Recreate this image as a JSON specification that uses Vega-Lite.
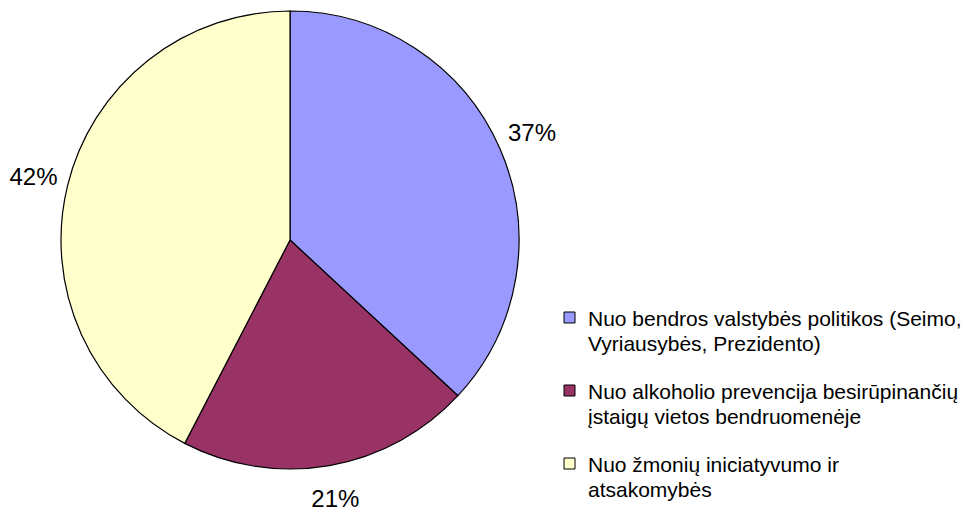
{
  "$schema": "https://vega.github.io/schema/vega-lite/v6.json",
  "width": 580,
  "height": 480,
  "padding": 0,
  "background": "white",
  "data": {
    "values": [
      {"n": 1, "category": "Nuo bendros valstybės politikos (Seimo,|Vyriausybės, Prezidento)", "value": 36.9, "label": "37%"},
      {"n": 2, "category": "Nuo alkoholio prevencija besirūpinančių|įstaigų vietos bendruomenėje", "value": 20.7, "label": "21%"},
      {"n": 3, "category": "Nuo žmonių iniciatyvumo ir|atsakomybės", "value": 42.4, "label": "42%"}
    ]
  },
  "encoding": {
    "theta": {"field": "value", "type": "quantitative", "stack": true},
    "order": {"field": "n", "type": "quantitative", "sort": "ascending"}
  },
  "layer": [
    {
      "mark": {"type": "arc", "outerRadius": 229, "stroke": "black", "strokeWidth": 1.2},
      "encoding": {
        "color": {
          "field": "category",
          "type": "nominal",
          "sort": null,
          "scale": {
            "domain": [
              "Nuo bendros valstybės politikos (Seimo,|Vyriausybės, Prezidento)",
              "Nuo alkoholio prevencija besirūpinančių|įstaigų vietos bendruomenėje",
              "Nuo žmonių iniciatyvumo ir|atsakomybės"
            ],
            "range": ["#9999FF", "#993366", "#FFFFCC"]
          },
          "legend": {
            "orient": "none",
            "legendX": 559,
            "legendY": 307,
            "padding": 0,
            "title": null,
            "symbolType": "square",
            "symbolSize": 121,
            "symbolStrokeColor": "black",
            "symbolStrokeWidth": 1,
            "symbolOpacity": 1,
            "labelFont": "Liberation Sans",
            "labelFontSize": 21,
            "labelColor": "black",
            "labelLimit": 0,
            "labelOffset": 8,
            "labelBaseline": "top",
            "labelExpr": "split(datum.label, '|')",
            "rowPadding": 25
          }
        }
      }
    },
    {
      "mark": {"type": "text", "radius": 264, "font": "Liberation Sans", "fontSize": 24, "color": "black"},
      "encoding": {"text": {"field": "label"}}
    }
  ],
  "config": {
    "view": {"stroke": null},
    "style": {"guide-label": {"lineHeight": 25, "dy": -9}}
  }
}
